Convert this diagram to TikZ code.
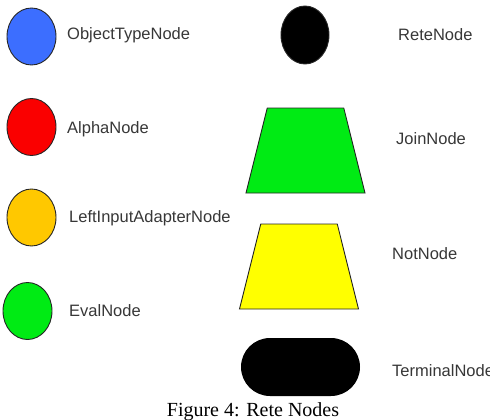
\documentclass[tikz,border=0pt]{standalone}
\usepackage{fontspec}
\setmainfont{Liberation Serif}
\setsansfont{Liberation Sans}
\usepackage{xcolor}
\usepackage{tikz}
\usetikzlibrary{
  shapes.geometric,
}

\definecolor{otnblue}{RGB}{60,110,255}
\definecolor{alphared}{RGB}{250,0,0}
\definecolor{liaorange}{RGB}{255,200,0}
\definecolor{evalgreen}{RGB}{0,235,20}
\definecolor{notyellow}{RGB}{255,255,0}
\definecolor{labelgray}{RGB}{55,55,55}

\begin{document}
\begin{tikzpicture}[
  x=1pt, y=-1pt,
  every node/.style={align=left},
  blob/.style={ellipse, draw=black!85, line width=0.9pt,
    minimum width=49pt, minimum height=57pt, inner sep=0pt},
  trap/.style={trapezium, draw=black!85, line width=0.9pt,
    trapezium left angle=74.5, trapezium right angle=74.5,
    trapezium stretches=true,
    minimum width=119pt, minimum height=85pt, inner sep=2pt},
  legend/.style={anchor=base west, inner sep=0pt, text=labelgray,
    font=\sffamily\fontsize{16.5}{19}\selectfont},
]

\useasboundingbox (0,0) rectangle (490,420);

% left column: round nodes
\node[blob, fill=otnblue]    (otn)  at (31.5,36.5) {};
\node[blob, fill=alphared]   (alpha) at (31.5,127) {};
\node[blob, fill=liaorange]  (lia)  at (31.5,217.5) {};
\node[blob, fill=evalgreen]  (eval) at (27.5,311) {};

\node[legend] (otnlbl)   at (67,40)  {ObjectTypeNode};
\node[legend] (alphalbl) at (67,133) {AlphaNode};
\node[legend] (lialbl)   at (69,222) {LeftInputAdapterNode};
\node[legend] (evallbl)  at (69,316) {EvalNode};

% right column
\node[blob, fill=black, minimum width=48pt, minimum height=58pt] (rete) at (305,35) {};
\node[trap, fill=evalgreen] (join) at (305.5,150.5) {};
\node[trap, fill=notyellow] (not)  at (299,266.5) {};
\node[rectangle, fill=black, rounded corners=29pt,
  minimum width=119pt, minimum height=58pt] (term) at (300.5,367) {};

\node[legend] (retelbl) at (398,41)  {ReteNode};
\node[legend] (joinlbl) at (396,144) {JoinNode};
\node[legend] (notlbl)  at (392,259) {NotNode};
\node[legend] (termlbl) at (392,376) {TerminalNode};

% caption
\node[anchor=base, inner sep=0pt, font=\fontsize{20}{24}\selectfont] (caption)
  at (253,416) {Figure 4: Rete Nodes};

\end{tikzpicture}
\end{document}
